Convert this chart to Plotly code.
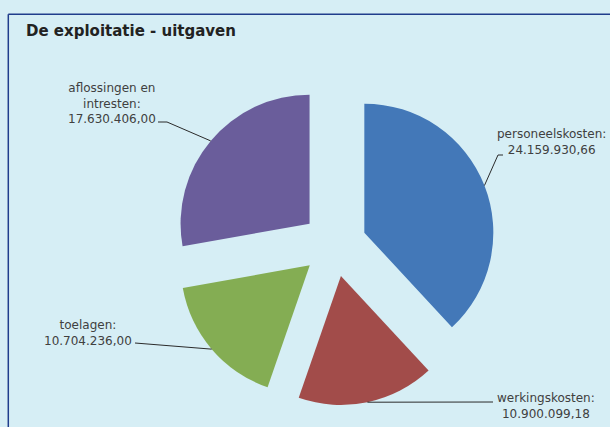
import numpy as np
import plotly.graph_objects as go

# ---- data ----
categories = ["personeelskosten", "werkingskosten", "toelagen", "aflossingen en intresten"]
values = [24159930.66, 10900099.18, 10704236.00, 17630406.00]
value_labels = ["24.159.930,66", "10.900.099,18", "10.704.236,00", "17.630.406,00"]
label_texts = ["personeelskosten:", "werkingskosten:", "toelagen:", "aflossingen en<br>intresten:"]
colors = ["#4378b8", "#a24c4a", "#84ad53", "#6a5d9b"]

# ---- layout geometry (pixels) ----
W, H = 610, 427
CX, CY = 334.3, 244.4      # pie centre (px, from top-left)
R = 129.0                  # slice radius (px)
PULL = 0.25
half = R * (1 + PULL)
dom_x = [(CX - half) / W, (CX + half) / W]
dom_y = [1 - (CY + half) / H, 1 - (CY - half) / H]

BG = "#d6eef5"
TXT = "#404040"
FONT = "DejaVu Sans, Verdana, sans-serif"

fig = go.Figure(go.Pie(
    labels=categories, values=values, sort=False, direction="clockwise",
    rotation=0, pull=[PULL] * 4, marker=dict(colors=colors, line=dict(width=0)),
    textinfo="none", hoverinfo="skip", showlegend=False,
    domain=dict(x=dom_x, y=dom_y),
))

def px(x, y):
    return x / W, 1 - y / H

# mid-angle arc points of each exploded slice, derived from the values
tot = sum(values)
cum = np.cumsum([0] + values[:-1])
mids = [(c + v / 2) / tot * 2 * np.pi for c, v in zip(cum, values)]
arc_pts = [(CX + half * np.sin(a), CY - half * np.cos(a)) for a in mids]

# leader line routes (label-side points, px)
routes = [
    [(498, 155), (503, 155)],
    [(493, 402)],
    [(135, 343)],
    [(167, 122), (158, 122)],
]
label_pos = [(551, 142), (546.3, 406.3), (88.3, 332.5), (111.5, 103)]

shapes = []
for (ax0, ay0), route in zip(arc_pts, routes):
    pts = [(ax0, ay0)] + route
    for (x0, y0), (x1, y1) in zip(pts[:-1], pts[1:]):
        a0, b0 = px(x0, y0)
        a1, b1 = px(x1, y1)
        shapes.append(dict(type="line", xref="paper", yref="paper",
                           x0=a0, y0=b0, x1=a1, y1=b1,
                           line=dict(color="#2a2a2a", width=1)))

# frame border (top and left)
BORDER = "#203d8c"
shapes.append(dict(type="line", xref="paper", yref="paper",
                   x0=8.3 / W, y0=1 - 14.3 / H, x1=1.02, y1=1 - 14.3 / H,
                   line=dict(color=BORDER, width=1.5)))
shapes.append(dict(type="line", xref="paper", yref="paper",
                   x0=8.3 / W, y0=1 - 14.3 / H, x1=8.3 / W, y1=-0.02,
                   line=dict(color=BORDER, width=1.5)))

annotations = []
for t, v, (lx, ly) in zip(label_texts, value_labels, label_pos):
    x, y = px(lx, ly)
    annotations.append(dict(text=f"{t}<br>{v}", x=x, y=y, xref="paper", yref="paper",
                            xanchor="center", yanchor="middle", align="center",
                            showarrow=False, font=dict(family=FONT, size=12, color=TXT)))

tx, ty = px(24, 31)
annotations.append(dict(text="<b>De exploitatie - uitgaven</b>", x=tx, y=ty,
                        xref="paper", yref="paper", xanchor="left", yanchor="middle",
                        showarrow=False, font=dict(family=FONT, size=15, color="#222222")))

fig.update_layout(
    width=W, height=H, margin=dict(l=0, r=0, t=0, b=0),
    paper_bgcolor=BG, plot_bgcolor=BG,
    shapes=shapes, annotations=annotations,
)

fig.write_html(
    "out.html",
    config={"displayModeBar": False},
    post_script="document.body.style.margin='0';document.body.style.padding='0';"
                "document.body.style.background='" + BG + "';",
)
